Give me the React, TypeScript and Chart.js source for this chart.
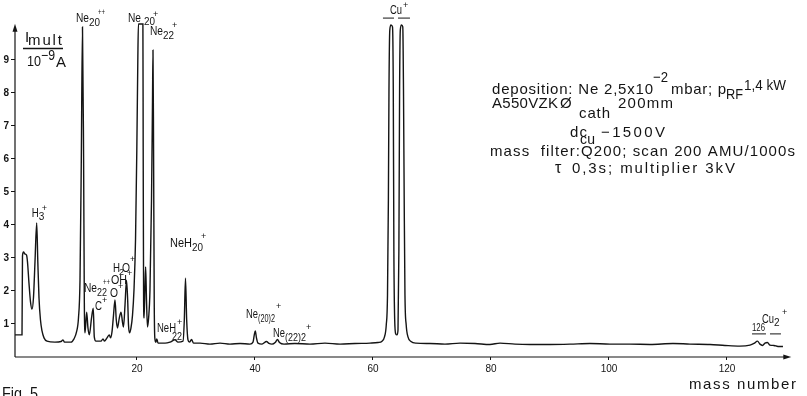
import { useEffect, useRef } from 'react';
import { Chart, registerables } from 'chart.js';

Chart.register(...registerables);

const FONT = '"Liberation Sans", Arial, Helvetica, sans-serif';
const INK = '#141414';

// Recorded trace: mass number vs multiplier current (10^-9 A)
const massNumber = [
  -0.68, 0.51, 0.59, 0.76, 1.02, 1.27, 1.44, 1.69, 1.95, 2.2, 2.46, 2.71, 3.0, 3.19, 3.39, 3.64, 3.9, 4.24, 4.75, 6.1,
  7.12, 7.46, 7.71, 8.81, 9.32, 9.75, 10.08, 10.34, 10.56, 10.76, 10.95, 11.07, 11.19, 11.47, 11.69, 11.92, 12.29, 12.59, 12.76, 13.05,
  13.9, 14.24, 14.49, 14.92, 15.31, 15.51, 15.76, 16.02, 16.27, 16.49, 16.69, 17.0, 17.29, 17.54, 17.71, 17.97, 18.22, 18.42, 18.56, 18.73,
  18.98, 19.24, 19.49, 19.75, 19.97, 20.14, 20.24, 21.0, 21.05, 21.12, 21.2, 21.36, 21.47, 21.61, 21.78, 21.97, 22.2, 22.46, 22.63, 22.71,
  22.81, 22.92, 23.02, 23.19, 23.36, 23.56, 24.75, 25.59, 26.44, 26.95, 27.8, 28.02, 28.22, 28.42, 28.64, 28.9, 29.24, 29.58, 30.68, 32.37,
  34.07, 35.76, 37.46, 39.15, 39.66, 39.88, 40.05, 40.25, 40.51, 41.19, 41.95, 42.37, 42.88, 43.47, 43.81, 44.15, 44.92, 46.78, 49.32, 51.86,
  54.41, 56.95, 59.49, 60.85, 61.53, 61.95, 62.25, 62.46, 62.61, 62.71, 62.85, 63.05, 63.31, 63.44, 63.54, 63.68, 63.86, 64.07, 64.24, 64.39,
  64.51, 64.63, 64.83, 65.05, 65.17, 65.29, 65.42, 65.63, 65.93, 66.44, 67.29, 69.66, 72.2, 74.75, 77.29, 79.83, 81.53, 84.07, 86.61, 90.0,
  93.39, 96.78, 100.17, 103.56, 106.95, 110.85, 113.73, 117.12, 119.66, 122.2, 123.9, 124.58, 125.17, 125.59, 126.02, 126.44, 126.86, 127.29, 127.97, 128.64,
  129.49,
];
const intensity = [
  0.67, 0.67, 3.06, 3.18, 3.12, 3.09, 2.88, 2.24, 1.67, 1.45, 1.82, 2.88, 4.06, 2.88, 1.79, 1.12, 0.79, 0.58, 0.48, 0.45,
  0.47, 0.52, 0.45, 0.45, 0.55, 0.76, 1.18, 2.33, 5.97, 10.0, 5.97, 1.73, 0.73, 1.36, 0.88, 0.67, 1.18, 1.48, 0.61, 0.48,
  0.48, 0.55, 0.48, 0.58, 0.67, 0.58, 0.76, 1.27, 1.73, 1.12, 0.88, 1.18, 1.36, 1.06, 0.91, 1.58, 2.33, 1.73, 0.97, 0.73,
  0.88, 1.27, 2.03, 3.55, 6.27, 9.0, 10.09, 10.09, 6.27, 1.73, 1.18, 2.18, 2.73, 1.73, 0.91, 1.18, 2.03, 4.76, 7.79, 9.3,
  6.27, 1.73, 0.58, 0.45, 0.55, 0.42, 0.42, 0.45, 0.52, 0.45, 0.48, 1.12, 2.39, 1.12, 0.52, 0.45, 0.53, 0.42, 0.42, 0.39,
  0.42, 0.39, 0.41, 0.39, 0.45, 0.67, 0.79, 0.58, 0.42, 0.39, 0.47, 0.41, 0.39, 0.45, 0.53, 0.44, 0.39, 0.41, 0.39, 0.42,
  0.39, 0.41, 0.42, 0.44, 0.48, 0.61, 0.97, 1.88, 4.76, 8.09, 9.91, 10.06, 10.0, 8.09, 3.24, 1.12, 0.7, 0.67, 0.82, 3.24,
  8.09, 9.91, 10.06, 10.0, 8.09, 4.76, 1.88, 0.97, 0.61, 0.47, 0.42, 0.41, 0.39, 0.42, 0.41, 0.38, 0.42, 0.39, 0.38, 0.38,
  0.39, 0.41, 0.39, 0.39, 0.38, 0.41, 0.39, 0.38, 0.35, 0.33, 0.36, 0.41, 0.48, 0.39, 0.35, 0.42, 0.44, 0.36, 0.35, 0.32,
  0.32,
];

const xTickValues = [20, 40, 60, 80, 100, 120];
const yTickValues = [1, 2, 3, 4, 5, 6, 7, 8, 9];

// Peak labels: anchor (mass, intensity) and text parts [text, size, dx, dy, width]
type Part = [string, number, number, number, number?];
const labelMass = [9.66, 18.47, 22.2, 2.15, 11.02, 15.42, 12.88, 15.59, 15.93, 25.59, 23.39, 38.47, 43.05, 62.88, 125.93, 124.24];
const labelValue = [10.15, 10.15, 9.76, 4.25, 1.97, 1.82, 1.42, 2.21, 2.58, 3.33, 0.76, 1.18, 0.61, 10.39, 1.03, 0.79];
const labelParts: Part[][] = [
  [['Ne', 12, 0, 0, 13], ['20', 10, 13, 4, 11], ['++', 9, 22, -7, 7]],
  [['Ne', 12, 0, 0, 13], ['20', 10, 16, 3, 11], ['+', 9, 25, -5]],
  [['Ne', 12, 0, 0, 13], ['22', 10, 13, 4, 11], ['+', 9, 22, -7]],
  [['H', 12, 0, 0, 7], ['3', 10, 7, 3], ['+', 9, 10, -6]],
  [['Ne', 12, 0, 0, 13], ['22', 10, 13, 4, 10], ['++', 9, 19, -7, 7]],
  [['O', 12, 0, 0, 8], ['+', 9, 8, -8]],
  [['C', 12, 0, 0, 7], ['+', 9, 7, -7]],
  [['OH', 12, 0, 0, 16], ['+', 9, 16, -8]],
  [['H', 12, 0, 0, 7], ['2', 9, 6, 3], ['O', 12, 9, 0, 8], ['+', 9, 17, -10]],
  [['NeH', 12, 0, 0, 22], ['20', 10, 22, 4, 11], ['+', 9, 31, -8]],
  [['NeH', 12, 0, 0, 19], ['+', 9, 20, -7], ['22', 10, 15, 8, 10]],
  [['Ne', 12, 0, 0, 12], ['(20)2', 10, 12, 4, 17], ['+', 9, 30, -9]],
  [['Ne', 12, 0, 0, 12], ['(22)2', 10, 12, 4, 21], ['+', 9, 33, -7]],
  [['Cu', 12, 0, 0, 12], ['+', 9, 13, -6]],
  [['Cu', 12, 0, 0, 12], ['2', 10, 12, 3], ['+', 9, 20, -8]],
  [['126', 10, 0, 0, 13]],
];
// Short bars over the copper peaks: [massFrom, massTo, level]
const barFrom = [61.69, 64.24, 124.24, 127.29];
const barTo = [63.56, 66.27, 126.61, 129.15];
const barLevel = [10.27, 10.27, 0.7, 0.7];

function drawText(ctx: CanvasRenderingContext2D, s: string, x: number, y: number, size: number, width?: number) {
  ctx.font = `${size}px ${FONT}`;
  const w0 = ctx.measureText(s).width;
  if (!width || (s.length < 2 && width >= w0)) {
    ctx.fillText(s, x, y);
    return;
  }
  if (width < w0) {
    ctx.save();
    ctx.translate(x, y);
    ctx.scale(width / w0, 1);
    ctx.fillText(s, 0, 0);
    ctx.restore();
    return;
  }
  const sp = (width - w0) / (s.length - 1);
  let cx = x;
  for (const ch of s) {
    ctx.fillText(ch, cx, y);
    cx += ctx.measureText(ch).width + sp;
  }
}

const decorPlugin = {
  id: 'decor',
  beforeDraw(chart: any) {
    const ctx = chart.ctx;
    ctx.save();
    ctx.fillStyle = '#ffffff';
    ctx.fillRect(0, 0, chart.width, chart.height);
    ctx.restore();
  },
  afterDraw(chart: any) {
    const ctx: CanvasRenderingContext2D = chart.ctx;
    const xs = chart.scales.x;
    const ys = chart.scales.y;
    ctx.save();
    ctx.strokeStyle = INK;
    ctx.fillStyle = INK;
    ctx.lineWidth = 1.2;
    const x0 = xs.left;
    const y0 = ys.getPixelForValue(0);
    const yTop = ys.getPixelForValue(10.1);
    const xEnd = xs.getPixelForValue(130.9);
    ctx.beginPath();
    ctx.moveTo(x0, y0);
    ctx.lineTo(x0, yTop + 4);
    ctx.moveTo(x0, y0);
    ctx.lineTo(xEnd - 4, y0);
    ctx.stroke();
    ctx.beginPath();
    ctx.moveTo(x0, yTop);
    ctx.lineTo(x0 - 2.5, yTop + 8);
    ctx.lineTo(x0 + 2.5, yTop + 8);
    ctx.closePath();
    ctx.fill();
    ctx.beginPath();
    ctx.moveTo(xEnd, y0);
    ctx.lineTo(xEnd - 8, y0 - 2.5);
    ctx.lineTo(xEnd - 8, y0 + 2.5);
    ctx.closePath();
    ctx.fill();

    // peak labels
    ctx.textBaseline = 'alphabetic';
    ctx.textAlign = 'left';
    labelParts.forEach((parts, i) => {
      const ax = xs.getPixelForValue(labelMass[i]);
      const ay = ys.getPixelForValue(labelValue[i]);
      parts.forEach(([t, size, dx, dy, w]) => drawText(ctx, t, ax + dx, ay + dy, size, w));
    });
    ctx.lineWidth = 1;
    barFrom.forEach((m, i) => {
      const y = ys.getPixelForValue(barLevel[i]);
      ctx.beginPath();
      ctx.moveTo(xs.getPixelForValue(m), y);
      ctx.lineTo(xs.getPixelForValue(barTo[i]), y);
      ctx.stroke();
    });

    // axis title (fraction)
    drawText(ctx, 'I', 25, 42, 15);
    drawText(ctx, 'mult', 28, 45, 15, 34);
    ctx.lineWidth = 1.3;
    ctx.beginPath();
    ctx.moveTo(23, 48.5);
    ctx.lineTo(63, 48.5);
    ctx.stroke();
    drawText(ctx, '10', 27, 66, 15, 14);
    drawText(ctx, '\u22129', 41, 60, 14, 14);
    drawText(ctx, 'A', 56, 67, 15, 11);

    // parameter block
    drawText(ctx, 'deposition: Ne 2,5x10', 492, 94, 15, 161);
    drawText(ctx, '\u22122', 653, 82, 15, 15);
    drawText(ctx, 'mbar; p', 671, 94, 15, 55);
    drawText(ctx, 'RF', 726, 99, 15, 17);
    drawText(ctx, '1,4 kW', 744, 90, 15, 42);
    drawText(ctx, 'A550VZK', 492, 108, 15, 66);
    drawText(ctx, '\u00d8', 560, 108, 15, 12);
    drawText(ctx, 'cath', 579, 118, 15, 31);
    drawText(ctx, '200mm', 618, 108, 15, 55);
    drawText(ctx, 'dc', 570, 137, 15, 17);
    drawText(ctx, 'cu', 580, 144, 14, 15);
    drawText(ctx, '\u22121500V', 601, 137, 15, 64);
    drawText(ctx, 'mass  filter:Q200; scan 200 AMU/1000s', 490, 156, 15, 305);
    drawText(ctx, '\u03c4', 555, 173, 16, 9);
    drawText(ctx, '0,3s; multiplier 3kV', 572, 173, 15, 163);

    // x axis title and figure caption
    drawText(ctx, 'mass number', 689, 389, 15, 107);
    drawText(ctx, 'Fig. 5', 2, 399, 17, 36);
    ctx.restore();
  },
};

export default function App() {
  const ref = useRef<HTMLCanvasElement | null>(null);
  useEffect(() => {
    if (!ref.current) return;
    const chart = new Chart(ref.current, {
      type: 'line',
      data: {
        datasets: [
          {
            data: massNumber.map((m, i) => ({ x: m, y: intensity[i] })),
            borderColor: INK,
            borderWidth: 1.4,
            pointRadius: 0,
            cubicInterpolationMode: 'monotone',
            fill: false,
            clip: false as any,
          },
        ],
      },
      options: {
        animation: false,
        responsive: false,
        devicePixelRatio: 1,
        layout: { padding: { top: 17, right: 12, left: 0, bottom: 0 } },
        plugins: { legend: { display: false }, tooltip: { enabled: false } },
        scales: {
          x: {
            type: 'linear',
            min: -0.678,
            max: 131.53,
            afterBuildTicks: (s: any) => {
              s.ticks = xTickValues.map((v) => ({ value: v }));
            },
            afterFit: (s: any) => {
              s.height = 39;
            },
            grid: { drawOnChartArea: false, drawTicks: true, tickLength: 3, color: INK, lineWidth: 1 },
            border: { display: false },
            ticks: { color: INK, font: { family: FONT, size: 10 }, padding: 3, maxRotation: 0, autoSkip: false },
          },
          y: {
            type: 'linear',
            min: 0,
            max: 10.303,
            afterBuildTicks: (s: any) => {
              s.ticks = yTickValues.map((v) => ({ value: v }));
            },
            afterFit: (s: any) => {
              s.width = 15;
            },
            grid: { drawOnChartArea: false, drawTicks: true, tickLength: 4, color: INK, lineWidth: 1 },
            border: { display: false },
            ticks: { color: INK, font: { family: FONT, size: 10, weight: 'bold' }, padding: 2, autoSkip: false },
          },
        },
      },
      plugins: [decorPlugin],
    });
    return () => chart.destroy();
  }, []);
  return (
    <div style={{ position: 'fixed', left: 0, top: 0, width: 807, height: 396, background: '#fff' }}>
      <canvas ref={ref} width={807} height={396} style={{ display: 'block' }} />
    </div>
  );
}
